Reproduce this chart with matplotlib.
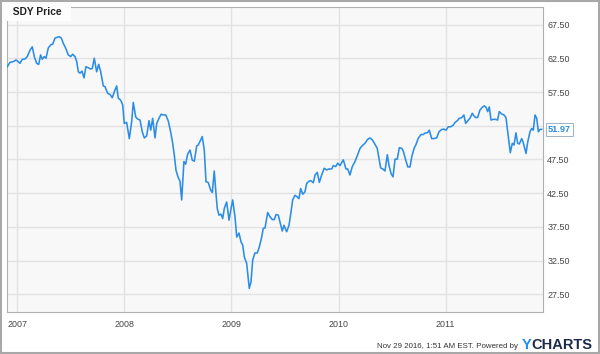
import matplotlib
matplotlib.use("Agg")
import matplotlib.pyplot as plt
from matplotlib.patches import Rectangle

# ---- data (decimal years, SDY price) ----
years = [
    2006.907, 2006.932, 2006.963, 2006.988, 2007.009, 2007.025, 2007.047, 2007.072, 2007.093, 2007.119,
    2007.140, 2007.159, 2007.181, 2007.200, 2007.218, 2007.233, 2007.252, 2007.268, 2007.289, 2007.312,
    2007.331, 2007.352, 2007.373, 2007.392, 2007.411, 2007.430, 2007.452, 2007.476, 2007.499, 2007.517,
    2007.539, 2007.555, 2007.570, 2007.585, 2007.604, 2007.623, 2007.641, 2007.663, 2007.685, 2007.700,
    2007.719, 2007.741, 2007.760, 2007.779, 2007.803,
    2007.819, 2007.844, 2007.866, 2007.887, 2007.912, 2007.928, 2007.943, 2007.965, 2007.984, 2007.999,
    2008.021, 2008.046, 2008.068, 2008.083, 2008.106, 2008.124, 2008.146, 2008.167, 2008.186, 2008.208,
    2008.230, 2008.246, 2008.264, 2008.286, 2008.302, 2008.323, 2008.342, 2008.363, 2008.386, 2008.410,
    2008.432, 2008.451, 2008.466, 2008.482, 2008.503, 2008.519, 2008.535, 2008.556, 2008.572, 2008.591,
    2008.613, 2008.634, 2008.653, 2008.675, 2008.690, 2008.712, 2008.727, 2008.746, 2008.762, 2008.783,
    2008.806, 2008.821,
    2008.839, 2008.855, 2008.867, 2008.883, 2008.902, 2008.918, 2008.933, 2008.955, 2008.977, 2008.993,
    2009.011, 2009.033, 2009.049, 2009.070, 2009.089, 2009.105, 2009.120, 2009.142, 2009.166, 2009.182,
    2009.198, 2009.219, 2009.241, 2009.260, 2009.282, 2009.297, 2009.313, 2009.338, 2009.360, 2009.381,
    2009.400, 2009.416, 2009.437, 2009.453, 2009.474, 2009.490, 2009.515, 2009.537, 2009.556, 2009.571,
    2009.593, 2009.614, 2009.630, 2009.646, 2009.665, 2009.686, 2009.702, 2009.724, 2009.743, 2009.764,
    2009.780, 2009.801, 2009.820, 2009.842, 2009.866, 2009.889, 2009.910, 2009.936, 2009.951, 2009.973,
    2009.992, 2010.013, 2010.044, 2010.069, 2010.085, 2010.106, 2010.128, 2010.153, 2010.178, 2010.200,
    2010.221, 2010.246, 2010.272, 2010.293, 2010.315, 2010.340, 2010.361, 2010.377, 2010.393, 2010.412,
    2010.433, 2010.455, 2010.471, 2010.489, 2010.508, 2010.527, 2010.548, 2010.567, 2010.590, 2010.604,
    2010.627, 2010.646, 2010.667, 2010.683, 2010.705, 2010.721, 2010.744, 2010.769, 2010.791,
    2010.806, 2010.832, 2010.847, 2010.869, 2010.891, 2010.916, 2010.937, 2010.962, 2010.984, 2011.003,
    2011.024, 2011.047, 2011.071, 2011.087, 2011.108, 2011.127, 2011.149, 2011.170, 2011.186, 2011.205,
    2011.226, 2011.248, 2011.264, 2011.280, 2011.299, 2011.319, 2011.342, 2011.360, 2011.376, 2011.392,
    2011.407, 2011.423, 2011.444, 2011.467, 2011.485, 2011.500, 2011.523, 2011.545, 2011.563, 2011.579,
    2011.591, 2011.603, 2011.622, 2011.638, 2011.656, 2011.672, 2011.687, 2011.710, 2011.725, 2011.750,
    2011.766, 2011.787, 2011.803, 2011.818, 2011.834, 2011.850, 2011.865, 2011.880, 2011.896,
]
prices = [
    61.25, 61.9, 62.0, 62.25, 62.0, 61.75, 62.35, 62.4, 62.75, 63.7,
    64.2, 62.75, 61.75, 61.6, 63.0, 62.35, 62.75, 62.5, 64.0, 64.5,
    64.6, 65.5, 65.6, 65.7, 65.5, 64.7, 64.0, 63.0, 62.75, 63.1,
    62.75, 62.0, 60.5, 60.3, 60.6, 59.6, 61.25, 61.1, 60.9, 61.0,
    62.5, 60.5, 61.6, 60.5, 58.4,
    58.3, 57.3, 57.15, 56.65, 57.8, 58.4, 56.6, 56.3, 55.6, 52.85,
    53.0, 50.6, 53.1, 55.95, 53.8, 53.5, 53.35, 51.6, 50.7, 51.0,
    53.25, 51.85, 53.6, 50.7, 52.85, 53.6, 54.2, 54.1, 54.1, 53.2,
    51.6, 49.9, 48.15, 45.9, 44.8, 44.3, 41.5, 47.2, 46.8, 48.3,
    48.9, 47.4, 47.25, 49.5, 49.65, 50.4, 50.9, 48.9, 44.2, 44.1,
    42.95, 42.6,
    45.8, 42.5, 40.25, 39.25, 39.4, 38.75, 40.25, 41.2, 38.5, 40.0,
    41.5, 39.0, 36.0, 36.6, 35.3, 34.8, 33.05, 32.1, 28.4, 29.35,
    32.6, 33.65, 33.65, 34.55, 36.0, 37.3, 37.35, 39.65, 39.0, 38.6,
    38.6, 39.35, 39.25, 38.25, 36.9, 37.75, 36.8, 37.75, 39.75, 41.5,
    42.2, 41.95, 41.7, 43.2, 42.35, 42.7, 43.95, 44.3, 44.35, 44.05,
    45.2, 45.6, 44.1, 45.2, 46.2, 45.95, 46.1, 46.1, 46.6, 46.45,
    46.95, 46.6, 47.45, 46.1, 46.1, 45.2, 46.45, 47.2, 48.2, 49.15,
    49.55, 49.9, 50.5, 50.7, 50.4, 49.75, 49.15, 47.65, 46.25, 46.1,
    45.8, 48.2, 46.6, 45.44, 44.93, 47.55, 47.55, 49.25, 49.15, 48.75,
    47.4, 46.4, 46.4, 47.9, 49.15, 49.65, 50.65, 51.2, 51.2,
    51.4, 51.5, 51.85, 50.6, 50.6, 50.7, 51.6, 51.95, 52.0, 51.85,
    52.35, 52.35, 52.6, 53.0, 53.25, 53.6, 53.7, 54.1, 52.85, 53.2,
    53.6, 54.35, 53.95, 53.7, 53.75, 54.8, 55.25, 55.45, 55.25, 54.6,
    55.3, 53.35, 53.45, 53.45, 53.35, 54.6, 54.25, 54.1, 53.7, 51.6,
    49.9, 48.5, 49.9, 49.65, 51.45, 49.9, 49.8, 50.6, 49.95, 48.4,
    50.1, 51.6, 52.1, 51.85, 54.1, 53.6, 51.6, 51.95, 51.97,
]
year_ticks = [2007, 2008, 2009, 2010, 2011]
price_ticks = [27.5, 32.5, 37.5, 42.5, 47.5, 52.5, 57.5, 62.5, 67.5]
series_name = "SDY Price"
last_value = 51.97
footer = "Nov 29 2016, 1:51 AM EST. Powered by"

LINE = "#2b8de6"
FONT = "Liberation Sans"

fig = plt.figure(figsize=(6.0, 3.54), dpi=100)
fig.patch.set_facecolor("white")
ax = fig.add_axes([7 / 600, 42 / 354, 536 / 600, 305 / 354])
ax.set_facecolor("#f8f8f8")

ax.plot(years, prices, color=LINE, lw=1.15, solid_joinstyle="round", zorder=3)

ax.set_xlim(2006.904, 2011.9085)
ax.set_ylim(24.9, 70.1)
ax.set_xticks(year_ticks)
ax.set_xticklabels([str(y) for y in year_ticks])
ax.set_yticks(price_ticks)
ax.set_yticklabels([f"{p:.2f}" for p in price_ticks])
ax.yaxis.tick_right()
ax.tick_params(axis="both", length=0, labelsize=6.4, labelcolor="#444444")
ax.tick_params(axis="x", pad=6)
ax.tick_params(axis="y", pad=3)
for lab in ax.get_xticklabels() + ax.get_yticklabels():
    lab.set_fontfamily(FONT)
ax.grid(True, color="#e2e2e2", lw=1.0, zorder=0)
ax.set_axisbelow(True)
for s in ax.spines.values():
    s.set_color("#b0b0b0")
    s.set_linewidth(0.8)

# series label box
ax.text(0.0, 1.0, "  " + series_name + "  ", transform=ax.transAxes, ha="left", va="top",
        fontsize=7.4, fontweight="bold", color="#222222", family=FONT,
        bbox=dict(boxstyle="square,pad=0.4", facecolor="#fdfdfd", edgecolor="none"), zorder=5)

# last value box
ax.annotate(f"{last_value:.2f}", xy=(1.0, last_value), xycoords=("axes fraction", "data"),
            xytext=(3.5, 0), textcoords="offset points", ha="left", va="center",
            fontsize=6.6, fontweight="bold", color=LINE, family=FONT, annotation_clip=False,
            bbox=dict(boxstyle="square,pad=0.2", facecolor="white", edgecolor="#9fb3c8", lw=0.7),
            zorder=6)

# footer
fig.text(518 / 600, 1 - 346 / 354, footer, ha="right", va="center", fontsize=5.7,
         color="#333333", family=FONT)
fig.text(531 / 600, 1 - 345 / 354, "Y", ha="right", va="center", fontsize=10.5,
         fontweight="bold", color="#1f8ef1", family=FONT)
fig.text(531 / 600, 1 - 345 / 354, "CHARTS", ha="left", va="center", fontsize=10.5,
         fontweight="bold", color="#1c2b4a", family=FONT)

# outer border
fig.patches.append(Rectangle((0.001, 0.002), 0.997, 0.995, transform=fig.transFigure,
                             fill=False, edgecolor="#a8a8a8", lw=1.5))

fig.savefig("out.png", dpi=100)
